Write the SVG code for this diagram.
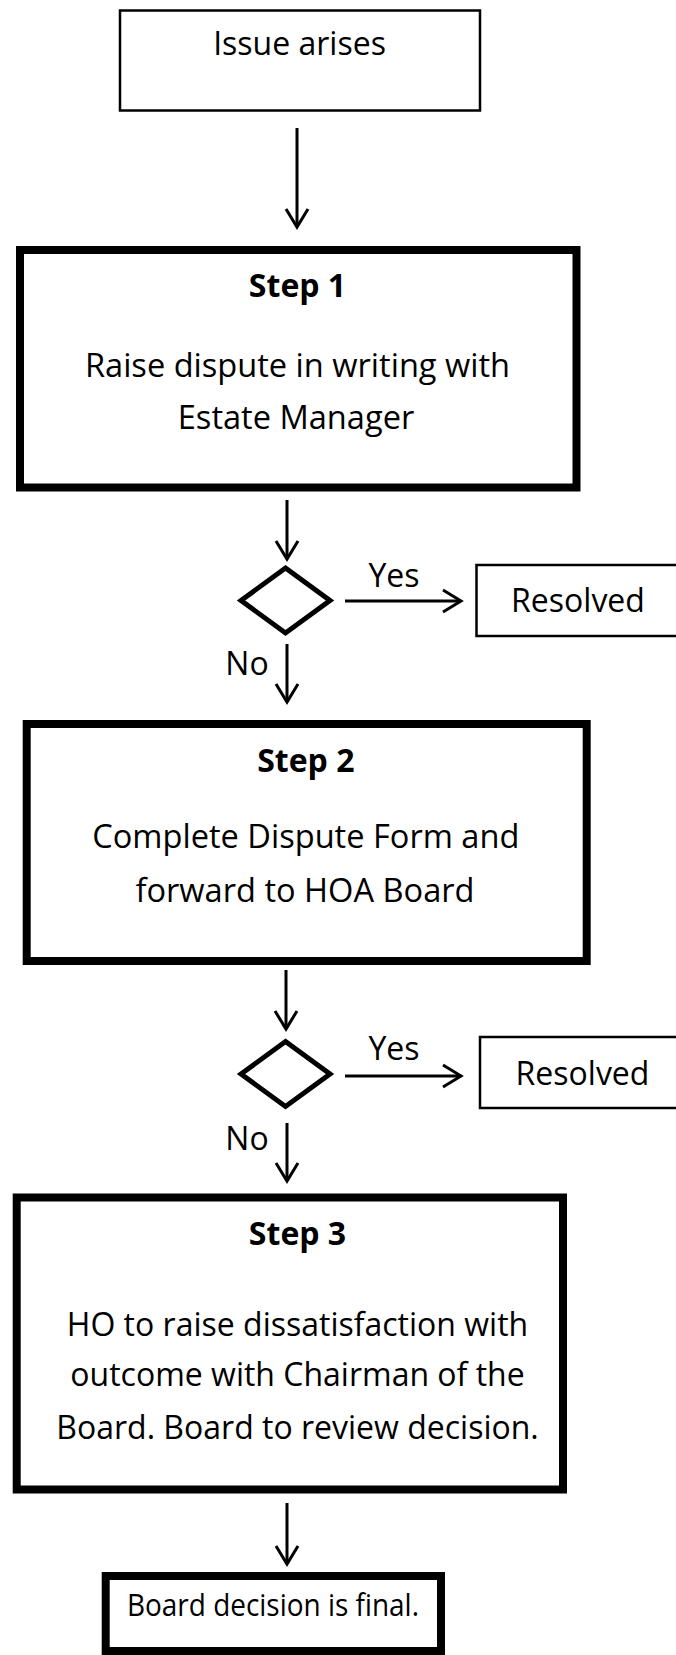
<svg xmlns="http://www.w3.org/2000/svg" width="676" height="1655" viewBox="0 0 676 1655">
<style>
text{font-family:"Open Sans","Noto Sans","Liberation Sans",sans-serif;font-size:32px;fill:#000;text-anchor:middle}
.b{font-weight:bold}
.sm{font-size:31px}
.lg{font-size:32.6px}
.thin{fill:#fff;stroke:#000;stroke-width:2.5}
.thick{fill:#fff;stroke:#000;stroke-width:8}
.dia{fill:#fff;stroke:#000;stroke-width:5;stroke-linejoin:miter}
.con{fill:none;stroke:#000;stroke-width:3}
</style>
<defs>
<marker id="ah" markerUnits="userSpaceOnUse" markerWidth="30" markerHeight="30" refX="0" refY="0" viewBox="-22 -15 26 30" orient="auto" overflow="visible">
<path d="M-18,-11 L0,0 L-18,11" fill="none" stroke="#000" stroke-width="3"/>
</marker>
</defs>
<rect width="676" height="1655" fill="#fff"/>
<g id="connectors">
<line class="con" x1="297" y1="128" x2="297" y2="227" marker-end="url(#ah)"/>
<line class="con" x1="287" y1="500" x2="287" y2="559" marker-end="url(#ah)"/>
<line class="con" x1="345" y1="601" x2="461" y2="601" marker-end="url(#ah)"/>
<line class="con" x1="287" y1="644" x2="287" y2="702" marker-end="url(#ah)"/>
<line class="con" x1="286" y1="970" x2="286" y2="1029" marker-end="url(#ah)"/>
<line class="con" x1="345" y1="1076" x2="461" y2="1076" marker-end="url(#ah)"/>
<line class="con" x1="287" y1="1123" x2="287" y2="1181" marker-end="url(#ah)"/>
<line class="con" x1="287" y1="1503" x2="287" y2="1564" marker-end="url(#ah)"/>
<text x="394" y="586.7">Yes</text>
<text x="247" y="675">No</text>
<text x="394" y="1060">Yes</text>
<text x="247" y="1150">No</text>
</g>
<g id="issue">
<rect class="thin" x="120" y="10.5" width="360" height="100"/>
<text x="299.5" y="55">Issue arises</text>
</g>
<g id="step1">
<rect class="thick" x="20" y="250" width="556.5" height="237.5"/>
<text class="b" x="297.5" y="296.7">Step 1</text>
<text class="lg" x="297.5" y="377">Raise dispute in writing with</text>
<text class="lg" x="296" y="429">Estate Manager</text>
</g>
<g id="decision1">
<polygon class="dia" points="285.5,568 330,600.5 285.5,633 241,600.5"/>
</g>
<g id="resolved1">
<rect class="thin" x="476.5" y="565" width="230" height="71"/>
<text x="578" y="611.7">Resolved</text>
</g>
<g id="step2">
<rect class="thick" x="26.7" y="724" width="560" height="237"/>
<text class="b" x="305.8" y="771.7">Step 2</text>
<text class="lg" x="305.8" y="848.3">Complete Dispute Form and</text>
<text class="lg" x="305" y="901.7">forward to HOA Board</text>
</g>
<g id="decision2">
<polygon class="dia" points="285.5,1041.5 330,1074 285.5,1106.5 241,1074"/>
</g>
<g id="resolved2">
<rect class="thin" x="480" y="1037" width="230" height="71"/>
<text x="582.5" y="1085">Resolved</text>
</g>
<g id="step3">
<rect class="thick" x="16.7" y="1197.5" width="546.3" height="292"/>
<text class="b" x="297.5" y="1245">Step 3</text>
<text x="297.5" y="1336">HO to raise dissatisfaction with</text>
<text x="297.5" y="1386">outcome with Chairman of the</text>
<text x="297.5" y="1439">Board. Board to review decision.</text>
</g>
<g id="final">
<rect class="thick" x="105.7" y="1576" width="335.3" height="75"/>
<text class="sm" x="273" y="1616" textLength="292" lengthAdjust="spacingAndGlyphs">Board decision is final.</text>
</g>
</svg>
